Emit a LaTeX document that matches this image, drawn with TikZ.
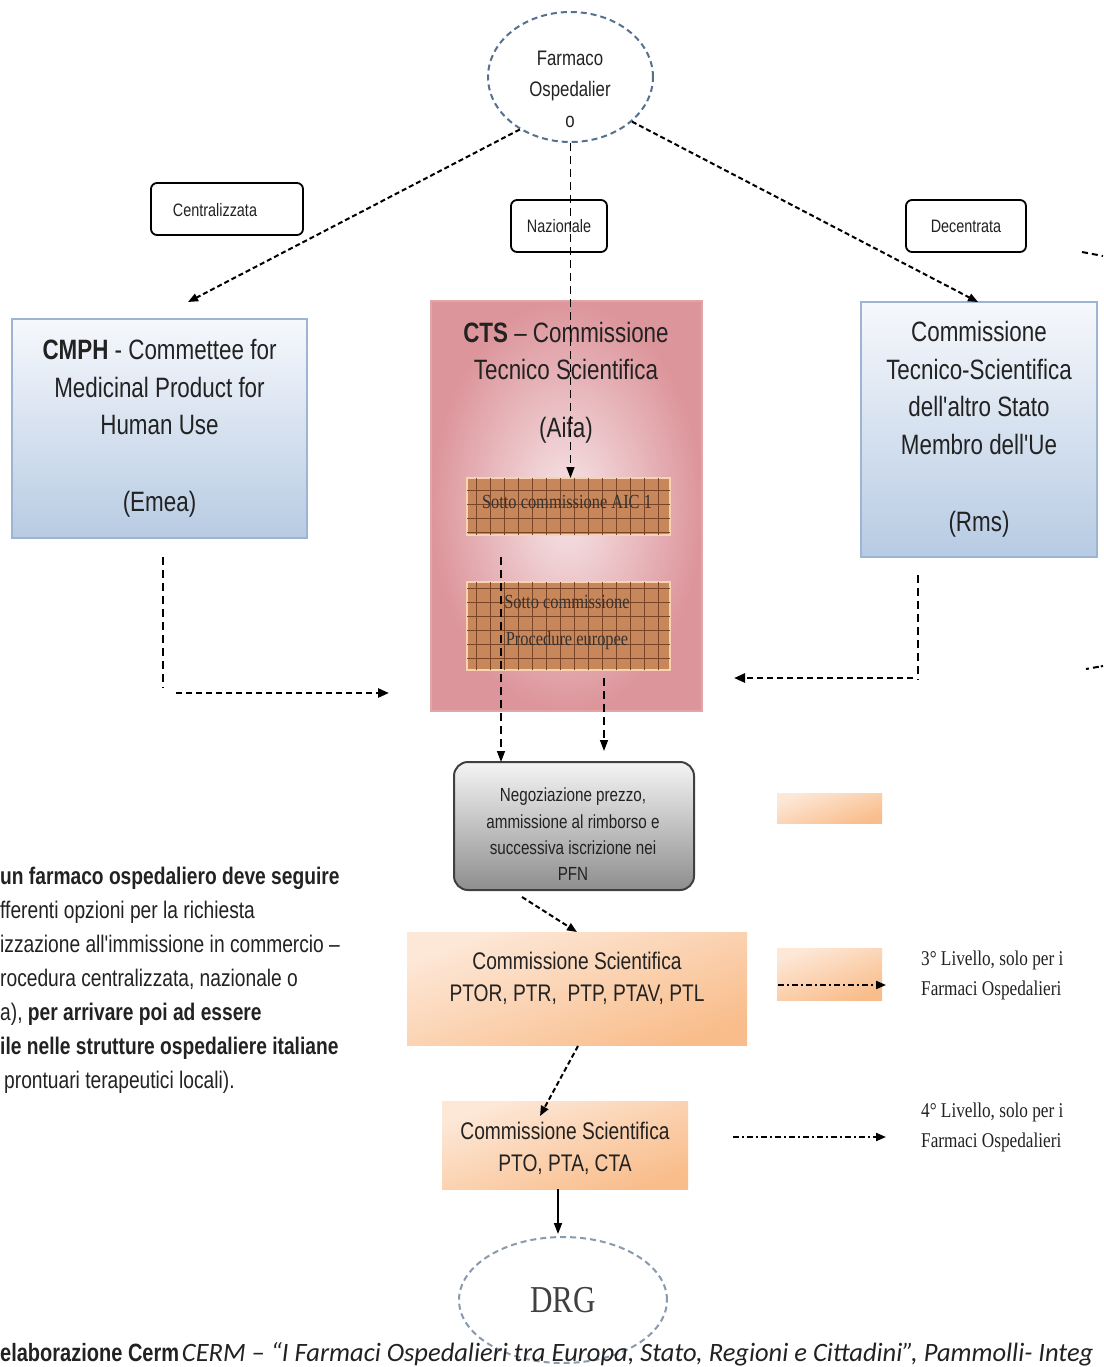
\documentclass[tikz,border=0pt]{standalone}
\usepackage{fontspec}
\setmainfont{Liberation Sans}
\newfontfamily\nar[FakeStretch=0.8]{Liberation Sans}
\newfontfamily\narser[FakeStretch=0.82]{Liberation Serif}
\newfontfamily\calib{Carlito}
\usetikzlibrary{arrows.meta,shapes.geometric,calc}
\definecolor{txt}{HTML}{222222}
\definecolor{ellc}{HTML}{56708F}
\definecolor{drgc}{HTML}{8A9AAE}
\definecolor{blueT}{HTML}{F6F8FC}
\definecolor{blueB}{HTML}{B7CBE3}
\definecolor{bluebd}{HTML}{9DB5D3}
\definecolor{pinkin}{HTML}{F7E6E8}
\definecolor{pinkout}{HTML}{DC959B}
\definecolor{pinkbd}{HTML}{E2A4A7}
\definecolor{brownf}{HTML}{C8875A}
\definecolor{browng}{HTML}{7A4526}
\definecolor{peach}{HTML}{F8D3B2}
\definecolor{orT}{HTML}{FDE8D8}
\definecolor{orB}{HTML}{F9BD8B}
\definecolor{grayT}{HTML}{F4F4F4}
\definecolor{grayB}{HTML}{8E8E8E}
\tikzset{
  lbl/.style={draw, line width=1.8pt, rounded corners=6pt, fill=white, text=txt,
    font=\nar\fontsize{18}{20}\selectfont, inner sep=0pt, outer sep=0pt},
  bluebox/.style={draw=bluebd, line width=1.5pt, top color=blueT, bottom color=blueB,
    align=center, font=\nar\fontsize{28}{37.5}\selectfont, text=txt, inner sep=0pt, outer sep=0pt},
  sottobox/.style={draw=peach, line width=2pt, fill=brownf, inner sep=0pt, outer sep=0pt},
  sottotxt/.style={font=\narser\fontsize{20}{37}\selectfont, text=black!80, align=center},
  orbox/.style={draw=none, top color=orT, bottom color=orB, shading angle=20, inner sep=0pt, outer sep=0pt},
  ortxt/.style={font=\nar\fontsize{24}{32}\selectfont, text=txt, align=center},
  dsharr/.style={line width=2pt, dash pattern=on 5pt off 3pt, -{Triangle[length=10pt,width=8pt]}},
  thinarr/.style={line width=1.4pt, dash pattern=on 8pt off 5pt, -{Triangle[length=11pt,width=8pt]}},
  thinline/.style={line width=1.2pt, dash pattern=on 8pt off 5pt},
  sqarr/.style={line width=2.6pt, dash pattern=on 6pt off 4pt, -{Triangle[length=11pt,width=9pt]}},
  dasharr/.style={line width=2pt, dash pattern=on 6pt off 3pt on 2pt off 3pt, -{Triangle[length=10pt,width=8pt]}},
  lvl/.style={font=\narser\fontsize{21}{30}\selectfont, text=txt, align=left, anchor=west, inner sep=0pt},
  para/.style={font=\nar\fontsize{24}{26}\selectfont, text=txt, anchor=base west, inner sep=0pt},
}
\begin{document}
\begin{tikzpicture}[x=1pt,y=-1pt]
\clip (0,0) rectangle (1103,1367);
\fill[white] (0,0) rectangle (1103,1367);

% top ellipse
\node[ellipse, draw=ellc, line width=2pt, dash pattern=on 6pt off 4pt, minimum width=165pt, minimum height=130pt,
  inner sep=0pt] (top) at (570.5,77) {};
\node[align=center, font=\nar\fontsize{21}{31}\selectfont, text=txt] (topt) at (570,89) {Farmaco\\Ospedalier\\o};

% labels
\node[lbl, minimum width=152pt, minimum height=52pt] (cen) at (227,209) {};
\node[font=\nar\fontsize{18}{20}\selectfont, text=txt] (cent) at (215,210) {Centralizzata};
\node[lbl, minimum width=96pt, minimum height=52pt] (naz) at (559,226) {Nazionale};
\node[lbl, minimum width=120pt, minimum height=52pt] (dec) at (966,226) {Decentrata};

% blue boxes
\node[bluebox, minimum width=295pt, minimum height=219pt] (cmph) at (159.5,428.5)
  {\textbf{CMPH} - Commettee for\\Medicinal Product for\\Human Use\\[39pt](Emea)};
\node[bluebox, minimum width=236pt, minimum height=255pt] (rms) at (979,429.5)
  {Commissione\\Tecnico-Scientifica\\dell'altro Stato\\Membro dell'Ue\\[40pt](Rms)};

% CTS box
\node[draw=pinkbd, line width=1.5pt, inner color=pinkin, outer color=pinkout, minimum width=271pt, minimum height=410pt,
  inner sep=0pt, outer sep=0pt] (cts) at (566.5,506) {};
\node[font=\nar\fontsize{28}{37}\selectfont, text=txt, align=center] (ctst) at (566,351)
  {\textbf{CTS} – Commissione\\Tecnico Scientifica};
\node[font=\nar\fontsize{28}{37}\selectfont, text=txt] (aifa) at (566,430) {(Aifa)};

% sotto boxes
\node[sottobox, minimum width=203pt, minimum height=57pt] (aic) at (568.5,506.5) {};
\begin{scope}
\clip (aic.south west) rectangle (aic.north east);
\draw[browng, line width=0.8pt, step=14pt] (aic.south west) grid (aic.north east);
\end{scope}
\node[sottotxt] (aict) at (567,502) {Sotto commissione AIC 1};

\node[sottobox, minimum width=203pt, minimum height=88pt] (proc) at (568.5,626) {};
\begin{scope}
\clip (proc.south west) rectangle (proc.north east);
\draw[browng, line width=0.8pt, step=14pt] (proc.south west) grid (proc.north east);
\end{scope}
\node[sottotxt] (proct) at (567,622.5) {Sotto commissione\\Procedure europee};

% negoziazione
\node[draw=black!75, line width=2pt, rounded corners=14pt, top color=grayT, bottom color=grayB,
  minimum width=240pt, minimum height=128pt, inner sep=0pt, outer sep=0pt] (neg) at (574,826) {};
\node[font=\nar\fontsize{19}{26.3}\selectfont, text=txt, align=center] (negt) at (573,834.5)
  {Negoziazione prezzo,\\ammissione al rimborso e\\successiva iscrizione nei\\PFN};

% orange legend-like rects
\node[orbox, minimum width=105pt, minimum height=30pt] (leg1) at (829.5,808) {};
\node[orbox, minimum width=105pt, minimum height=52pt] (leg2) at (829.5,974) {};

% commissione boxes
\node[orbox, minimum width=340pt, minimum height=113pt] (ptor) at (577,988.5) {};
\node[ortxt] (ptort) at (577,978) {Commissione Scientifica\\PTOR, PTR,\ \ PTP, PTAV, PTL};
\node[orbox, minimum width=246pt, minimum height=88pt] (pto) at (565,1145) {};
\node[ortxt] (ptot) at (565,1148.5) {Commissione Scientifica\\PTO, PTA, CTA};

% DRG ellipse
\node[ellipse, draw=drgc, line width=2pt, dash pattern=on 6pt off 4pt, minimum width=208pt, minimum height=126pt,
  inner sep=0pt, font=\narser\fontsize{38}{40}\selectfont, text=black!75] (drg) at (563,1300) {DRG};

% level texts
\node[lvl] (l3) at (921,975) {3° Livello, solo per i\\Farmaci Ospedalieri};
\node[lvl] (l4) at (921,1127) {4° Livello, solo per i\\Farmaci Ospedalieri};

% connectors from top
\coordinate (cEnd) at (188,302);
\coordinate (dEnd) at (978,302);
\draw[dsharr] (top.226) -- (cEnd);
\draw[dsharr] (top.-36) -- (dEnd);
\draw[thinarr] (top.south) -- (top.south |- aic.north);

% from CMPH
\coordinate (cm1) at (163,557);
\coordinate (cm2) at (163,688);
\coordinate (cm3) at (176,693);
\coordinate (cm4) at (389,693);
\draw[thinline] (cm1) -- (cm2);
\draw[sqarr] (cm3) -- (cm4);

% from Rms
\coordinate (rm1) at (918,575);
\coordinate (rm2) at (918,680);
\coordinate (rm3) at (913,678);
\coordinate (rm4) at (734,678);
\draw[thinline] (rm1) -- (rm2);
\draw[sqarr] (rm3) -- (rm4);

% CTS to negoziazione
\coordinate (v1) at (501,557);
\coordinate (v2) at (604,678);
\coordinate (v2e) at (604,751);
\draw[thinarr] (v1) -- (neg.north -| v1);
\draw[thinarr] (v2) -- (v2e);

% down the chain
\coordinate (n1) at (522,897);
\coordinate (n2) at (577,932);
\draw[dsharr] (n1) -- (n2);
\coordinate (p1) at (578,1046);
\coordinate (p2) at (540,1116);
\draw[dsharr] (p1) -- (p2);
\draw[line width=1.8pt, -{Triangle[length=11pt,width=8pt]}] (pto.south -| 558,0) -- (558,1234);

% level arrows
\coordinate (a3s) at (778,985);
\coordinate (a3e) at (886,985);
\coordinate (a4s) at (733,1137);
\coordinate (a4e) at (886,1137);
\draw[dasharr] (a3s) -- (a3e);
\draw[dasharr] (a4s) -- (a4e);

% stray marks at right edge
\coordinate (s1) at (1082,252);
\coordinate (s1e) at (1103,256);
\coordinate (s2) at (1086,669);
\coordinate (s2e) at (1103,666);
\draw[line width=2pt, dash pattern=on 6pt off 4pt] (s1) -- (s1e);
\draw[line width=2pt, dash pattern=on 3pt off 4pt on 6pt off 2pt] (s2) -- (s2e);

% left paragraph
\node[para] (t1) at (0,884) {\bfseries un farmaco ospedaliero deve seguire};
\node[para] (t2) at (0,918) {fferenti opzioni per la richiesta};
\node[para] (t3) at (0,952) {izzazione all'immissione in commercio –};
\node[para] (t4) at (0,986) {rocedura centralizzata, nazionale o};
\node[para] (t5) at (0,1020) {a), \textbf{per arrivare poi ad essere}};
\node[para] (t6) at (0,1054) {\bfseries ile nelle strutture ospedaliere italiane};
\node[para] (t7) at (4,1088) {prontuari terapeutici locali).};

% caption
\node[anchor=base west, inner sep=0pt, text=txt] (cap) at (0,1361)
  {{\nar\bfseries\fontsize{25}{27}\selectfont elaborazione Cerm} {\calib\itshape\fontsize{26.5}{28}\selectfont CERM – “I Farmaci Ospedalieri tra Europa, Stato, Regioni e Cittadini”, Pammolli- Integ}};
\end{tikzpicture}
\end{document}
